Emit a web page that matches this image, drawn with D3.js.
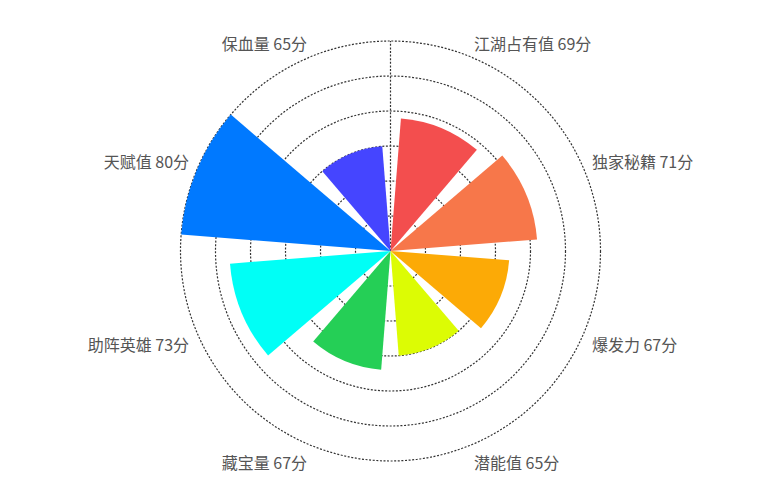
<!DOCTYPE html>
<html>
<head>
<meta charset="utf-8">
<script src="https://cdn.jsdelivr.net/npm/d3@7"></script>
<style>
  body { margin: 0; background: #fff; }
  .grid { fill: none; stroke: #333; stroke-width: 1.2; stroke-dasharray: 2,1.6; }
  .label { font-family: "Noto Sans CJK SC", "Noto Sans", sans-serif; font-size: 16px; fill: #555; }
</style>
</head>
<body>
<div id="chart"></div>
<script>
// data
var categories = ["江湖占有值", "独家秘籍", "爆发力", "潜能值", "藏宝量", "助阵英雄", "天赋值", "保血量"];
var values = [69, 71, 67, 65, 67, 73, 80, 65];
var colors = ["#f34e4e", "#f7774a", "#fcaa06", "#dcfc04", "#25cf56", "#00fff6", "#0079ff", "#4545ff"];
var ticks = [50, 55, 60, 65, 70, 75, 80];

var width = 784, height = 504;
var cx = 390.5, cy = 251;
var outer = 210;

var svg = d3.select("#chart").append("svg")
    .attr("width", width)
    .attr("height", height)
  .append("g")
    .attr("transform", "translate(" + cx + "," + cy + ")");

// scales
var r = d3.scaleLinear().domain([50, 80]).range([0, outer]);
var angle = d3.scaleBand().domain(categories).range([0, 2 * Math.PI])
    .paddingInner(0.2).paddingOuter(0.1);
var step = angle.step();

// grid circles
svg.append("g").selectAll("circle")
    .data(ticks.slice(1))
  .enter().append("circle")
    .attr("class", "grid")
    .attr("r", function(d) { return r(d); });

// radial axis line (points up)
svg.append("line")
    .attr("class", "grid")
    .attr("x1", 0).attr("y1", 0)
    .attr("x2", 0).attr("y2", -r(80));

// bars
var arc = d3.arc()
    .innerRadius(0)
    .outerRadius(function(d, i) { return r(values[i]); })
    .startAngle(function(d) { return angle(d); })
    .endAngle(function(d) { return angle(d) + angle.bandwidth(); });

svg.append("g").selectAll("path")
    .data(categories)
  .enter().append("path")
    .attr("d", function(d, i) { return arc(d, i); })
    .attr("fill", function(d, i) { return colors[i]; });

// angle labels, at the middle of each category
var labelR = outer + 8;
function mid(i) { return step * (i + 0.5); }

svg.append("g").selectAll("text")
    .data(categories)
  .enter().append("text")
    .attr("class", "label")
    .attr("x", function(d, i) { return labelR * Math.sin(mid(i)); })
    .attr("y", function(d, i) {
      var y = -labelR * Math.cos(mid(i));
      return Math.cos(mid(i)) > 0 ? y - 7 : y + 9.5;
    })
    .attr("dominant-baseline", "central")
    .attr("text-anchor", function(d, i) { return Math.sin(mid(i)) > 0 ? "start" : "end"; })
    .text(function(d, i) { return d + " " + values[i] + "分"; });
</script>
</body>
</html>
